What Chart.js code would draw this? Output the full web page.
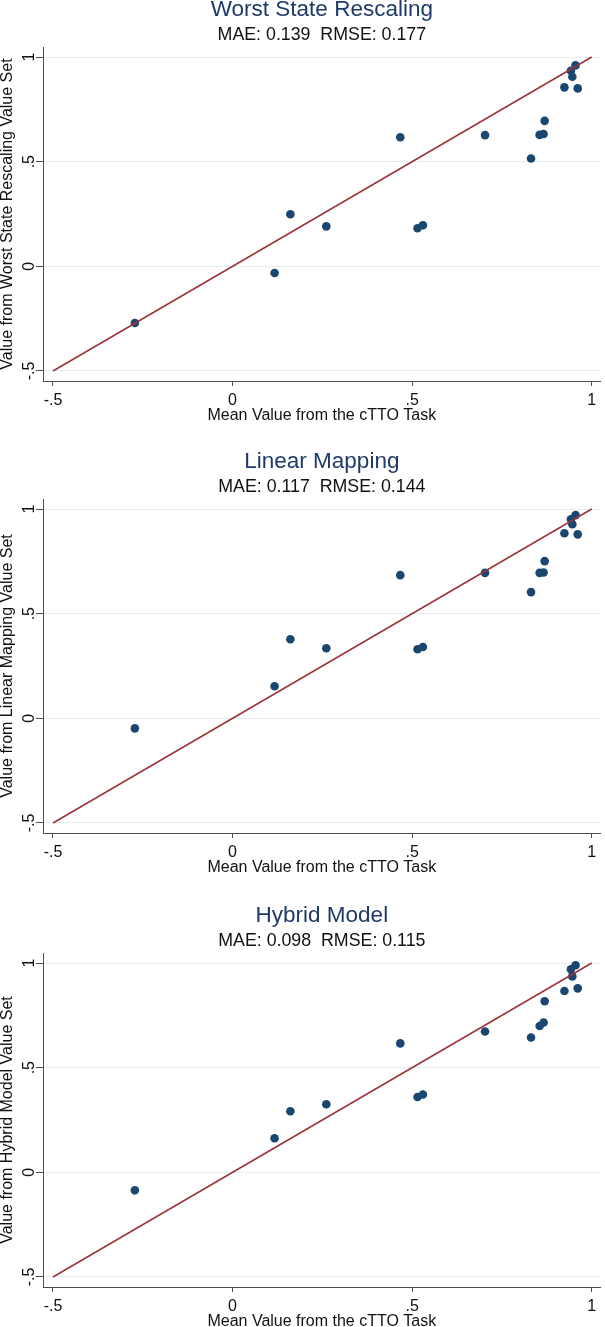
<!DOCTYPE html>
<html>
<head>
<meta charset="utf-8">
<script src="https://cdn.jsdelivr.net/npm/chart.js@4/dist/chart.umd.min.js"></script>
<style>
  html, body { margin: 0; padding: 0; background: #fff; overflow: hidden; }
  body { width: 605px; height: 1327px; position: relative; }
  canvas { position: absolute; left: 0; }
</style>
</head>
<body>
<canvas id="panel0" width="605" height="452" style="top:0px"></canvas>
<canvas id="panel1" width="605" height="452" style="top:452px"></canvas>
<canvas id="panel2" width="605" height="452" style="top:906px"></canvas>
<script>
// mean cTTO value per health state (same x for all three panels)
const cttoMean = [-0.272, 0.117, 0.161, 0.261, 0.467, 0.515, 0.530, 0.703, 0.831, 0.855, 0.866, 0.869, 0.924, 0.942, 0.946, 0.955, 0.961];

// predicted values from each value set
const worstState = [-0.271, -0.032, 0.249, 0.191, 0.617, 0.182, 0.196, 0.627, 0.515, 0.628, 0.632, 0.695, 0.855, 0.934, 0.906, 0.960, 0.850];
const linearMap  = [-0.048, 0.153, 0.378, 0.335, 0.684, 0.330, 0.341, 0.695, 0.603, 0.695, 0.697, 0.751, 0.884, 0.951, 0.927, 0.971, 0.879];
const hybrid     = [-0.086, 0.163, 0.292, 0.325, 0.616, 0.360, 0.372, 0.673, 0.644, 0.699, 0.716, 0.817, 0.866, 0.970, 0.936, 0.989, 0.879];

// 45 degree reference line
const lineX = [-0.5, 1];
const lineY = [-0.5, 1];

const xTicks = [-0.5, 0, 0.5, 1];
const yTicks = [-0.5, 0, 0.5, 1];

const panelTitles = ['Worst State Rescaling', 'Linear Mapping', 'Hybrid Model'];
const panelStats = ['MAE: 0.139  RMSE: 0.177', 'MAE: 0.117  RMSE: 0.144', 'MAE: 0.098  RMSE: 0.115'];
const yTitles = ['Value from Worst State Rescaling Value Set', 'Value from Linear Mapping Value Set', 'Value from Hybrid Model Value Set'];
const xTitle = 'Mean Value from the cTTO Task';
const panelValues = [worstState, linearMap, hybrid];

const FONT = '"Liberation Sans", Arial, sans-serif';
const navy = '#1a476f';
const maroon = '#9b3438';
const axisColor = '#4d4d4d';

// stata style labels: -.5 0 .5 1
function fmt(v) {
    if (v === 0) return '0';
    return String(v).replace('0.', '.');
}

// titles centred over plot area + rotated y tick labels
const panelText = {
    id: 'panelText',
    afterDraw(chart, args, opts) {
        const ctx = chart.ctx;
        const area = chart.chartArea;
        const ys = chart.scales.y;
        const cx = (area.left + area.right) / 2;
        ctx.save();
        ctx.textAlign = 'center';
        ctx.textBaseline = 'alphabetic';
        ctx.fillStyle = '#1f3a68';
        ctx.font = '22.5px ' + FONT;
        ctx.fillText(opts.title, cx, 16);
        ctx.fillStyle = '#111';
        ctx.font = '17.8px ' + FONT;
        ctx.fillText(opts.stats, cx, 40);

        ctx.font = '16px ' + FONT;
        ys.ticks.forEach(t => {
            const y = ys.getPixelForValue(t.value);
            ctx.save();
            ctx.translate(33.5, y);
            ctx.rotate(-Math.PI / 2);
            ctx.fillText(fmt(t.value), 0, 0);
            ctx.restore();
        });
        ctx.restore();
    }
};

function makePanel(idx) {
    const ctx = document.getElementById('panel' + idx).getContext('2d');
    const vals = panelValues[idx];
    return new Chart(ctx, {
        type: 'scatter',
        data: {
            datasets: [
                {
                    type: 'line',
                    data: lineX.map((x, i) => ({ x: x, y: lineY[i] })),
                    borderColor: maroon,
                    borderWidth: 1.5,
                    pointRadius: 0,
                    fill: false
                },
                {
                    data: cttoMean.map((x, i) => ({ x: x, y: vals[i] })),
                    backgroundColor: navy,
                    borderWidth: 0,
                    pointRadius: 4.3
                }
            ]
        },
        options: {
            responsive: false,
            animation: false,
            layout: { padding: { top: 47, right: 3, left: 0, bottom: 0 } },
            scales: {
                x: {
                    type: 'linear',
                    min: -0.5 - 10 / 360,
                    max: 1 + 9 / 360,
                    bounds: 'data',
                    afterBuildTicks: s => { s.ticks = xTicks.map(v => ({ value: v })); },
                    afterFit: s => { s.height = 71; },
                    grid: { drawOnChartArea: false, drawTicks: true, tickLength: 5, tickColor: axisColor },
                    border: { display: true, color: axisColor, width: 1 },
                    ticks: {
                        autoSkip: false, maxRotation: 0, padding: 5,
                        color: '#111', font: { family: FONT, size: 16 },
                        callback: v => fmt(v)
                    },
                    title: {
                        display: true, text: xTitle, color: '#111',
                        font: { family: FONT, size: 16 },
                        padding: { top: 0, bottom: 27 }
                    }
                },
                y: {
                    type: 'linear',
                    min: -0.5 - 10 / 209,
                    max: 1 + 10 / 209,
                    bounds: 'data',
                    afterBuildTicks: s => { s.ticks = yTicks.map(v => ({ value: v })); },
                    afterFit: s => { s.width = 43; },
                    grid: { color: '#e3ecef', drawTicks: true, tickLength: 7, tickColor: axisColor },
                    border: { display: true, color: axisColor, width: 1 },
                    ticks: { display: false },
                    title: {
                        display: true, text: yTitles[idx], color: '#111',
                        font: { family: FONT, size: 16, lineHeight: 1 },
                        padding: { top: 0, bottom: 0 }
                    }
                }
            },
            plugins: {
                legend: { display: false },
                tooltip: { enabled: false },
                panelText: { title: panelTitles[idx], stats: panelStats[idx] }
            }
        },
        plugins: [panelText]
    });
}

[0, 1, 2].forEach(makePanel);
</script>
</body>
</html>
